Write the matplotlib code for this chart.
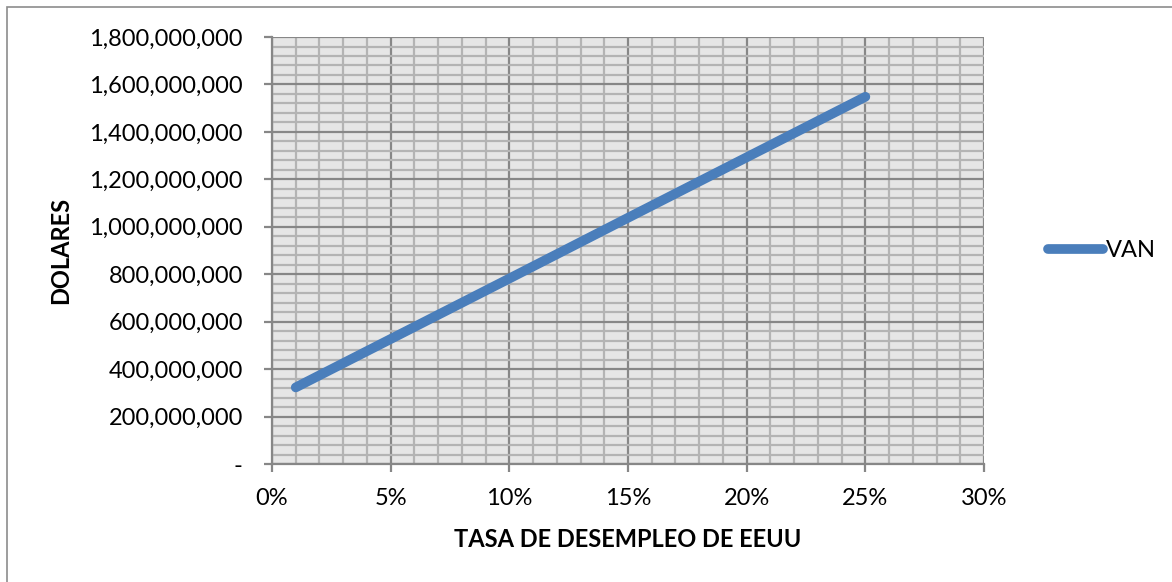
import matplotlib.pyplot as plt
import matplotlib.ticker as mticker
from matplotlib.patches import Rectangle

# data
tasa = [0.01, 0.05, 0.10, 0.15, 0.20, 0.25]
van = [323e6, 527e6, 782e6, 1038e6, 1293e6, 1548e6]

plt.rcParams['font.family'] = ['Lato', 'DejaVu Sans']

fig = plt.figure(figsize=(11.72, 5.82), dpi=100)
ax = fig.add_axes([0.2321, 0.2027, 0.6075, 0.7337])

ax.set_facecolor('#E6E6E6')
ax.plot(tasa, van, color='#4A7EBB', linewidth=7, solid_capstyle='round', label='VAN', zorder=3)

ax.set_xlim(0, 0.30)
ax.set_ylim(0, 1.8e9)
ax.xaxis.set_major_locator(mticker.MultipleLocator(0.05))
ax.xaxis.set_minor_locator(mticker.MultipleLocator(0.01))
ax.yaxis.set_major_locator(mticker.MultipleLocator(2e8))
ax.yaxis.set_minor_locator(mticker.MultipleLocator(4e7))
ax.xaxis.set_major_formatter(mticker.FuncFormatter(lambda v, p: f'{v * 100:.0f}%'))
ax.yaxis.set_major_formatter(mticker.FuncFormatter(lambda v, p: '-' if v == 0 else f'{v:,.0f}'))

ax.grid(which='minor', color='#B4B4B4', linewidth=1.6)
ax.grid(which='major', color='#878787', linewidth=1.6)
ax.set_axisbelow(True)

for s in ['top', 'right']:
    ax.spines[s].set_visible(False)
for s in ['left', 'bottom']:
    ax.spines[s].set_color('#878787')
    ax.spines[s].set_linewidth(1.6)

ax.tick_params(which='major', length=6, width=1.6, color='#878787', labelsize=17)
ax.tick_params(axis='y', pad=15)
ax.tick_params(axis='x', pad=11)
ax.tick_params(which='minor', length=0)

ax.set_xlabel('TASA DE DESEMPLEO DE EEUU', fontsize=17, fontweight='bold', labelpad=14)
ax.set_ylabel('DOLARES', fontsize=17, fontweight='bold', labelpad=12)

ax.legend(loc='center left', bbox_to_anchor=(1.077, 0.5), frameon=False, fontsize=17,
          handlelength=2.3, handletextpad=0.15, borderaxespad=0)

fig.add_artist(Rectangle((0.006, -0.1), 1.2, 1.088, transform=fig.transFigure,
                         fill=False, edgecolor='#8C8C8C', linewidth=1.2))

fig.savefig('out.png', dpi=100)
